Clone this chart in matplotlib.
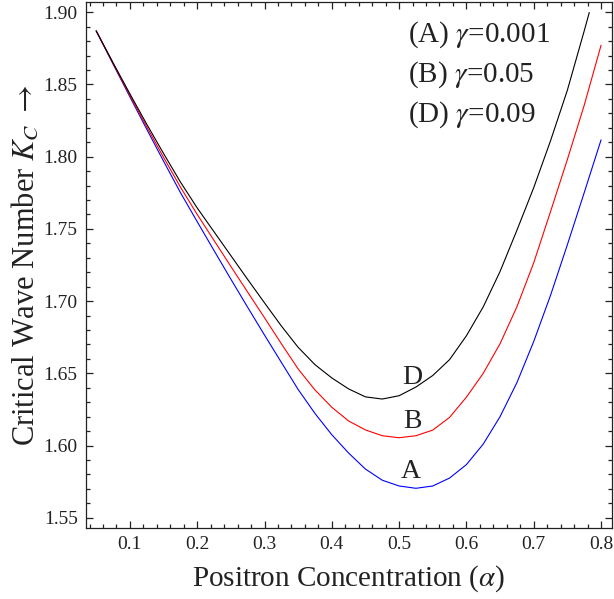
from __future__ import annotations

import matplotlib

matplotlib.use("Agg")
import matplotlib.pyplot as plt
from matplotlib.ticker import FormatStrFormatter, MultipleLocator


# positron concentration grid
ALPHA = [0.05, 0.075, 0.10, 0.125, 0.15, 0.175, 0.20, 0.225, 0.25, 0.275, 0.30,
         0.325, 0.35, 0.375, 0.40, 0.425, 0.45, 0.475, 0.50, 0.525, 0.55, 0.575,
         0.60, 0.625, 0.65, 0.675, 0.70, 0.725, 0.75, 0.775, 0.80]

# curve A, gamma = 0.001 (blue)
KC_A = [1.8870, 1.8641, 1.8414, 1.8190, 1.7969, 1.7752, 1.7550, 1.7350, 1.7152,
        1.6957, 1.6765, 1.6576, 1.6388, 1.6222, 1.6075, 1.5948, 1.5837, 1.5760,
        1.5720, 1.5704, 1.5720, 1.5775, 1.5868, 1.6010, 1.6200, 1.6435, 1.6720,
        1.7040, 1.7390, 1.7750, 1.8115]

# curve B, gamma = 0.05 (red)
KC_B = [1.8870, 1.8645, 1.8424, 1.8207, 1.7995, 1.7790, 1.7600, 1.7420, 1.7240,
        1.7062, 1.6885, 1.6705, 1.6530, 1.6385, 1.6265, 1.6170, 1.6108, 1.6068,
        1.6054, 1.6068, 1.6107, 1.6195, 1.6335, 1.6500, 1.6705, 1.6960, 1.7265,
        1.7620, 1.7980, 1.8355, 1.8770]

# curve D, gamma = 0.09 (black) leaves the frame near alpha = 0.78
ALPHA_D = ALPHA[:-1] + [0.7825]
KC_D = [1.8870, 1.8650, 1.8435, 1.8225, 1.8022, 1.7825, 1.7645, 1.7480, 1.7315,
        1.7150, 1.6988, 1.6828, 1.6680, 1.6560, 1.6468, 1.6392, 1.6337, 1.6322,
        1.6345, 1.6405, 1.6485, 1.6595, 1.6760, 1.6960, 1.7205, 1.7490, 1.7785,
        1.8110, 1.8460, 1.8870, 1.8997]

LEGEND_LINES = [r"(A) $\gamma$=0.001", r"(B) $\gamma$=0.05", r"(D) $\gamma$=0.09"]
CURVE_LABELS = ["A", "B", "D"]
LABEL_POS = [(0.5168, 1.5818), (0.5194, 1.6165), (0.5194, 1.6472)]


def main() -> None:
    plt.rcParams["font.family"] = ["Liberation Serif", "DejaVu Serif"]
    plt.rcParams["mathtext.fontset"] = "stix"

    fig = plt.figure(figsize=(6.14, 5.99), dpi=100)
    ax = fig.add_axes([0.140, 0.1185, 0.8567, 0.8782])

    ax.plot(ALPHA, KC_A, color="#0000ff", linewidth=0.8)
    ax.plot(ALPHA, KC_B, color="#ff0000", linewidth=0.8)
    ax.plot(ALPHA_D, KC_D, color="black", linewidth=0.8)

    for text, (x, y) in zip(CURVE_LABELS, LABEL_POS):
        ax.text(x, y, text, fontsize=20, ha="center", va="center", color="#222222")

    for i, line in enumerate(LEGEND_LINES):
        ax.text(0.612, 0.937 - i * 0.076, line, transform=ax.transAxes,
                fontsize=21, ha="left", va="center", color="#222222")

    ax.set_xlim(0.0347, 0.8163)
    ax.set_ylim(1.5429, 1.9071)
    ax.xaxis.set_major_locator(MultipleLocator(0.1))
    ax.xaxis.set_minor_locator(MultipleLocator(0.02))
    ax.yaxis.set_major_locator(MultipleLocator(0.05))
    ax.yaxis.set_minor_locator(MultipleLocator(0.01))
    ax.xaxis.set_major_formatter(FormatStrFormatter("%.1f"))
    ax.yaxis.set_major_formatter(FormatStrFormatter("%.2f"))
    ax.tick_params(which="both", direction="in", top=True, right=True,
                   labelsize=14, colors="#222222", width=0.9)
    ax.tick_params(which="major", length=5.2, pad=6)
    ax.tick_params(which="minor", length=3)
    for spine in ax.spines.values():
        spine.set_linewidth(0.9)
        spine.set_color("#222222")

    ax.set_xlabel(r"Positron Concentration ($\alpha$)", fontsize=21, color="#222222", labelpad=7)
    ax.set_ylabel(r"Critical Wave Number $K_C$ $\rightarrow$", fontsize=22, color="#222222", labelpad=2)

    fig.savefig("out.png", dpi=100)
    plt.close(fig)


if __name__ == "__main__":
    main()
